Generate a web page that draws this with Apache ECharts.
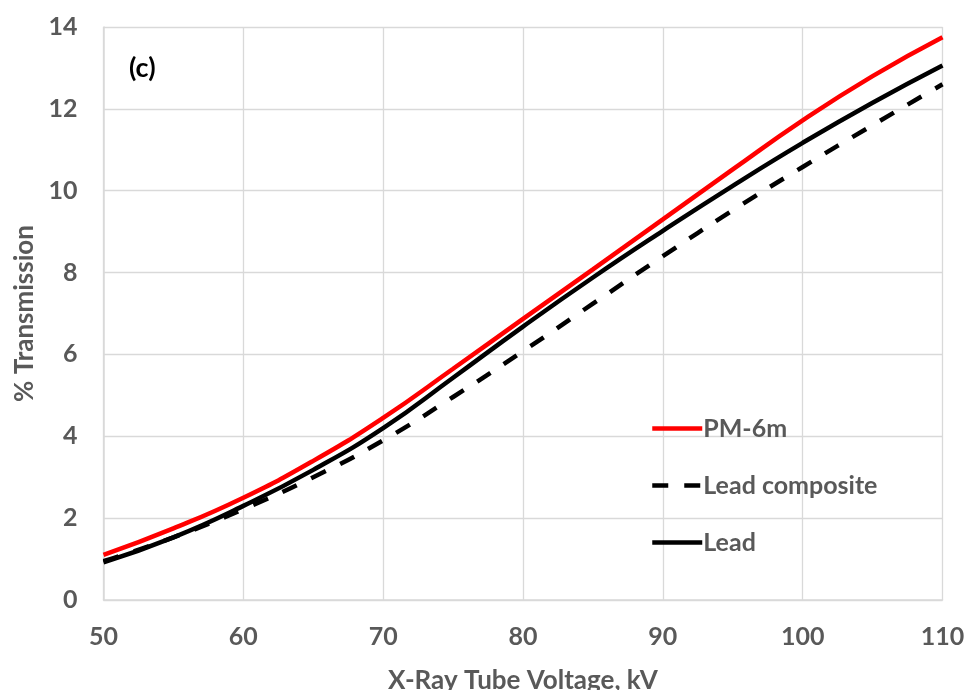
<!DOCTYPE html>
<html>
<head>
<meta charset="utf-8">
<script src="https://cdn.jsdelivr.net/npm/echarts@6/dist/echarts.min.js"></script>
<style>
html,body{margin:0;padding:0;background:#fff;}
#chart{width:965px;height:690px;}
</style>
</head>
<body>
<div id="chart"></div>
<script>
var voltages = [50, 55, 60, 65, 70, 75, 80, 85, 90, 95, 100, 105, 110];
var pm6m = [1.1, 1.75, 2.5, 3.4, 4.45, 5.65, 6.87, 8.08, 9.3, 10.52, 11.72, 12.8, 13.75];
var leadComposite = [0.95, 1.53, 2.22, 3.0, 3.9, 4.96, 6.08, 7.24, 8.4, 9.52, 10.58, 11.6, 12.6];
var lead = [0.92, 1.53, 2.3, 3.18, 4.2, 5.43, 6.68, 7.88, 9.02, 10.12, 11.17, 12.15, 13.06];
var seriesNames = ['PM-6m', 'Lead composite', 'Lead'];
var yTicks = [0, 2, 4, 6, 8, 10, 12, 14];
var xTicks = [50, 60, 70, 80, 90, 100, 110];

function pairs(ys) { return voltages.map(function (v, i) { return [v, ys[i]]; }); }

var FONT = 'Lato';
var GREY = '#595959';
var chart = echarts.init(document.getElementById('chart'));
chart.setOption({
  animation: false,
  backgroundColor: '#ffffff',
  grid: { left: 103.5, right: 22.5, top: 27, bottom: 90, outerBoundsMode: 'none', containLabel: false },
  xAxis: {
    type: 'value', min: xTicks[0], max: xTicks[xTicks.length - 1], interval: 10,
    name: 'X-Ray Tube Voltage, kV', nameLocation: 'middle', nameGap: 68,
    nameTextStyle: { fontFamily: FONT, fontWeight: 'bold', fontSize: 26, color: GREY },
    axisLine: { show: true, lineStyle: { color: '#d9d9d9', width: 1.5 } },
    axisTick: { show: false },
    axisLabel: { fontFamily: FONT, fontWeight: 'bold', fontSize: 25, color: GREY, margin: 24 },
    splitLine: { show: true, lineStyle: { color: '#d9d9d9', width: 1.3 } }
  },
  yAxis: {
    type: 'value', min: yTicks[0], max: yTicks[yTicks.length - 1], interval: 2,
    name: '% Transmission', nameLocation: 'middle', nameGap: 66,
    nameTextStyle: { fontFamily: FONT, fontWeight: 'bold', fontSize: 26, color: GREY },
    axisLine: { show: true, lineStyle: { color: '#d9d9d9', width: 1.5 } },
    axisTick: { show: false },
    axisLabel: { fontFamily: FONT, fontWeight: 'bold', fontSize: 25, color: GREY, margin: 26 },
    splitLine: { show: true, lineStyle: { color: '#d9d9d9', width: 1.3 } }
  },
  legend: {
    orient: 'vertical', left: 645, top: 411, itemWidth: 50, itemHeight: 14, itemGap: 32,
    data: seriesNames,
    itemStyle: { opacity: 0 },
    lineStyle: { width: 4.5 },
    textStyle: { fontFamily: FONT, fontWeight: 'bold', fontSize: 25, color: GREY, padding: [0,0,0,-4] }
  },
  graphic: [{
    type: 'text', left: 129, top: 55,
    style: { text: '(c)', fontFamily: FONT, fontWeight: 'bold', fontSize: 27, fill: '#000' }
  }],
  series: [
    { name: seriesNames[2], type: 'line', smooth: true, symbol: 'none', data: pairs(lead),
      lineStyle: { color: '#000000', width: 4.5 }, itemStyle: { color: '#000000' }, z: 3 },
    { name: seriesNames[1], type: 'line', smooth: true, symbol: 'none', data: pairs(leadComposite),
      lineStyle: { color: '#000000', width: 4.5, type: [16, 16] }, itemStyle: { color: '#000000' }, z: 2 },
    { name: seriesNames[0], type: 'line', smooth: true, symbol: 'none', data: pairs(pm6m),
      lineStyle: { color: '#ff0000', width: 4.5 }, itemStyle: { color: '#ff0000' }, z: 4 }
  ]
});
</script>
</body>
</html>
